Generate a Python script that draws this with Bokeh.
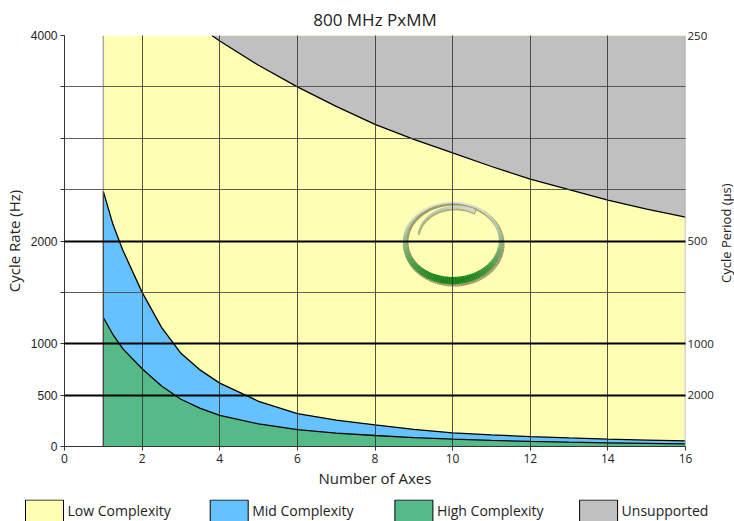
import numpy as np
from bokeh.plotting import figure
from bokeh.layouts import column, row
from bokeh.models import Range1d, LinearAxis, FixedTicker, Grid
from bokeh.core.properties import value
from bokeh.embed import file_html
from bokeh.resources import INLINE

# ---------------- data ----------------
title_text = "800 MHz PxMM"
x_label = "Number of Axes"
y_label = "Cycle Rate (Hz)"
y2_label = "Cycle Period (µs)"

low_x = [1, 16]
low_hz = [4000, 4000]

mid_x = [1, 1.25, 1.5, 2, 2.5, 3, 3.5, 4, 5, 6, 7, 8, 9, 10, 11, 12, 13, 14, 15, 16]
mid_hz = [2483, 2160, 1913, 1500, 1160, 907, 743, 617, 440, 320, 257, 211, 167, 133, 114, 97, 83, 71, 62, 55]

high_x = [1, 1.25, 1.5, 2, 2.5, 3, 3.5, 4, 5, 6, 7, 8, 9, 10, 11, 12, 13, 14, 15, 16]
high_hz = [1256, 1088, 953, 757, 588, 460, 371, 302, 220, 165, 131, 107, 87, 71, 59, 49, 42, 36, 31, 26]

unsup_x = [3.8, 4, 5, 6, 7, 8, 9, 10, 11, 12, 13, 14, 15, 16]
unsup_hz = [4000, 3946, 3710, 3500, 3310, 3135, 2990, 2857, 2725, 2603, 2500, 2397, 2310, 2232]

x_ticks = [0, 2, 4, 6, 8, 10, 12, 14, 16]
y_ticks = [0, 500, 1000, 1500, 2000, 2500, 3000, 3500, 4000]
y_labelled = [0, 500, 1000, 2000, 4000]
major_rates = [500, 1000, 2000, 4000]
minor_rates = [1500, 2500, 3000, 3500]
period_ticks = [4000, 2000, 1000, 500]
period_labels = ["250", "500", "1000", "2000"]

series_names = ["Low Complexity", "Mid Complexity", "High Complexity", "Unsupported"]
series_colors = ["#FFFFB4", "#66C2FF", "#55BA88", "#C0C0C0"]

FONT = "Open Sans"

p = figure(width=716, height=499, x_range=Range1d(0, 16), y_range=Range1d(0, 4000),
           output_backend="svg", toolbar_location=None,
           min_border_left=64, min_border_right=31, min_border_top=35, min_border_bottom=53)
p.outline_line_color = None

p.title.text = title_text
p.title.align = "center"
p.title.text_font = FONT
p.title.text_font_size = "17px"
p.title.text_font_style = "normal"
p.title.text_color = "#222222"

# ---------------- areas ----------------
p.varea(x=low_x, y1=[0, 0], y2=low_hz, fill_color=series_colors[0])
p.varea(x=unsup_x, y1=unsup_hz, y2=[4000] * len(unsup_x), fill_color=series_colors[3])
p.varea(x=mid_x, y1=[0] * len(mid_x), y2=mid_hz, fill_color=series_colors[1])
p.varea(x=high_x, y1=[0] * len(high_x), y2=high_hz, fill_color=series_colors[2])

p.line(x=mid_x, y=mid_hz, line_color="black", line_width=1.3)
p.line(x=high_x, y=high_hz, line_color="black", line_width=1.3)
p.line(x=unsup_x, y=unsup_hz, line_color="black", line_width=1.3)
p.segment(x0=[low_x[0], low_x[1]], y0=[0, 0], x1=[low_x[0], low_x[1]], y1=[4000, 4000],
          line_color="#aaaaaa", line_width=1.5)
p.segment(x0=[low_x[0]], y0=[0], x1=[low_x[0]], y1=[mid_hz[0]], line_color="#333333", line_width=1)

# ---------------- logo ----------------
cx, cy, a, b = 10.0, 1995.0, 1.237, 380.0
t = np.linspace(0, 2 * np.pi, 145)
sx, sy, ox, oy, cols, ws = [], [], [], [], [], []
for i in range(len(t) - 1):
    t0, t1 = t[i], t[i + 1]
    f = (1 - np.sin((t0 + t1) / 2)) / 2
    xs_ = [cx + a * np.cos(t0), cx + a * np.cos(t1)]
    ys_ = [cy + b * np.sin(t0), cy + b * np.sin(t1)]
    ox.append(xs_)
    oy.append(ys_)
    sx.append([v + 0.035 for v in xs_])
    sy.append([v - 16 for v in ys_])
    r = int(222 + (20 - 222) * f ** 1.3)
    g = int(228 + (132 - 228) * f ** 1.3)
    bl = int(222 + (20 - 222) * f ** 1.3)
    cols.append("#%02x%02x%02x" % (r, g, bl))
    ws.append(1.8 + 5.5 * f ** 1.5)
p.multi_line(xs=sx, ys=sy, line_color="#5e5238", line_alpha=0.6, line_width=[w + 1.4 for w in ws])
p.multi_line(xs=ox, ys=oy, line_color=cols, line_width=ws)

ti = np.linspace(np.radians(60), np.radians(172), 40)
ix, iy, icol, iw, isx, isy = [], [], [], [], [], []
ca, cb, ia, ib = 10.08, 2030.0, 0.98, 300.0
for i in range(len(ti) - 1):
    t0, t1 = ti[i], ti[i + 1]
    f = i / (len(ti) - 2)
    xs_ = [ca + ia * np.cos(t0), ca + ia * np.cos(t1)]
    ys_ = [cb + ib * np.sin(t0), cb + ib * np.sin(t1)]
    ix.append(xs_)
    iy.append(ys_)
    isx.append([v + 0.02 for v in xs_])
    isy.append([v - 12 for v in ys_])
    r = int(215 + (160 - 215) * f)
    g = int(222 + (198 - 222) * f)
    bl = int(215 + (160 - 215) * f)
    icol.append("#%02x%02x%02x" % (r, g, bl))
    iw.append(4.0 - 3.0 * f)
p.multi_line(xs=isx, ys=isy, line_color="#5e5238", line_alpha=0.5, line_width=[w + 0.8 for w in iw])
p.multi_line(xs=ix, ys=iy, line_color=icol, line_width=iw)

# ---------------- grids ----------------
p.xgrid.ticker = FixedTicker(ticks=x_ticks[1:-1])
p.xgrid.grid_line_color = "#333333"
p.xgrid.grid_line_width = 1
p.xgrid.grid_line_alpha = 0.85
p.xgrid.level = "guide"
p.ygrid.ticker = FixedTicker(ticks=minor_rates)
p.ygrid.grid_line_color = "#444444"
p.ygrid.grid_line_width = 1
p.ygrid.grid_line_alpha = 0.85
p.ygrid.level = "guide"
g2 = Grid(dimension=1, ticker=FixedTicker(ticks=major_rates), grid_line_color="black",
          grid_line_width=2, level="guide")
p.add_layout(g2)

# ---------------- axes ----------------
p.xaxis.ticker = FixedTicker(ticks=x_ticks)
p.xaxis.axis_label = x_label
p.yaxis.ticker = FixedTicker(ticks=y_ticks)
p.yaxis.axis_label = y_label
p.yaxis.major_label_overrides = {v: (str(v) if v in y_labelled else "") for v in y_ticks}
for ax in (p.xaxis[0], p.yaxis[0]):
    ax.axis_line_color = "#333333"
    ax.major_tick_line_color = "#333333"
    ax.major_tick_out = 4
    ax.major_tick_in = 0
    ax.minor_tick_line_color = None
    ax.major_label_text_font = FONT
    ax.major_label_text_font_size = "12px"
    ax.major_label_text_color = "#222222"
    ax.axis_label_text_font = FONT
    ax.axis_label_text_font_size = "15px"
    ax.axis_label_text_font_style = "normal"
    ax.axis_label_text_color = "#222222"
p.yaxis.major_label_text_font = "Liberation Sans"
p.xaxis.major_label_standoff = 3
p.xaxis.axis_label_standoff = 2
p.yaxis.major_label_standoff = 3
p.yaxis.axis_label_standoff = 4

right = LinearAxis(ticker=FixedTicker(ticks=period_ticks),
                   major_label_overrides=dict(zip(period_ticks, period_labels)),
                   axis_line_color=None, major_tick_line_color=None,
                   minor_tick_line_color=None, major_tick_out=0, major_tick_in=0,
                   major_label_standoff=2,
                   major_label_text_font=FONT, major_label_text_font_size="11.5px",
                   major_label_text_color="#222222")
p.add_layout(right, "right")

# ---------------- right axis title strip ----------------
side = figure(width=18, height=499, x_range=Range1d(0, 18), y_range=Range1d(0, 499),
              output_backend="svg", toolbar_location=None, min_border=0)
side.axis.visible = False
side.grid.visible = False
side.outline_line_color = None
side.text(x=[9], y=[499 - 240], text=[y2_label], angle=np.pi / 2,
          text_font=value(FONT), text_font_size="13px", text_align="center",
          text_baseline="middle", text_color="#222222")

# ---------------- legend strip ----------------
leg = figure(width=734, height=22, x_range=Range1d(0, 734), y_range=Range1d(-22, 0),
             output_backend="svg", toolbar_location=None, min_border=0)
leg.axis.visible = False
leg.grid.visible = False
leg.outline_line_color = None
box_left = [25 + 184.7 * i for i in range(len(series_names))]
leg.quad(left=box_left, right=[v + 38 for v in box_left], top=[-0.5] * 4, bottom=[-40] * 4,
         fill_color=series_colors, line_color="black", line_width=1)
leg.text(x=[v + 42 for v in box_left], y=[-11] * 4, text=series_names,
         text_font=value(FONT), text_font_size="14px", text_baseline="middle",
         text_color="#222222")

layout = column(row(p, side, spacing=0), leg, spacing=0)
open("out.html", "w").write(file_html(layout, INLINE))
